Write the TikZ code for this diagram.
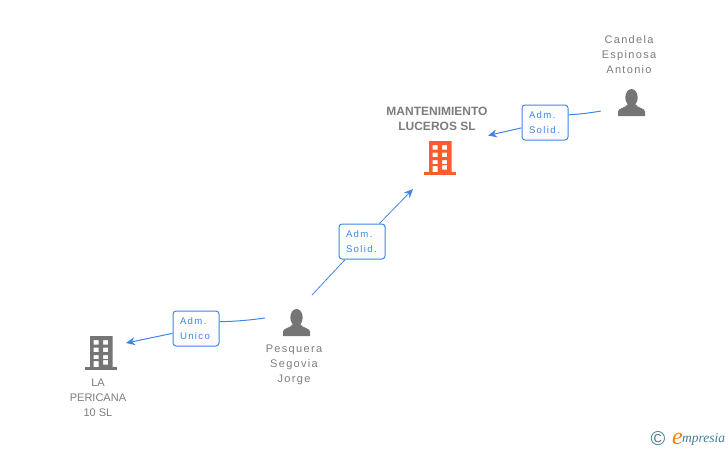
\documentclass[tikz,border=0pt]{standalone}
\usepackage{fontspec}
\setmainfont{Liberation Sans}
\newfontfamily\namefont[LetterSpace=12]{Liberation Sans}
\newfontfamily\rolefont[LetterSpace=14]{Liberation Sans}
\newfontfamily\logofont{Liberation Serif}
\usetikzlibrary{arrows.meta}
\definecolor{mygrey}{HTML}{7C7C7C}
\definecolor{icongrey}{HTML}{757575}
\definecolor{myorange}{HTML}{FF5B2E}
\definecolor{myblue}{HTML}{3F86E8}
\definecolor{myteal}{HTML}{3E7F96}
\tikzset{
  myline/.style={
    draw=myblue,
    line width=1pt,
  },
  myarrow/.style={
    myline,
    -{Stealth[length=9pt,width=8pt]},
  },
  thinarrow/.style={
    draw=myblue,
    line width=0.8pt,
    -{Stealth[length=9pt,width=8pt]},
  },
  myrole/.style={
    draw=myblue,
    line width=1pt,
    shape=rectangle,
    rounded corners=3pt,
    top color=white,
    bottom color=white!98!black,
    align=left,
    text=myblue,
    inner sep=0pt,
    text width=32pt,
    minimum width=46pt,
    minimum height=35pt,
    font=\rolefont\fontsize{9.6}{15}\selectfont,
  },
  myname/.style={
    align=center,
    inner sep=0pt,
    text=mygrey,
    font=\namefont\fontsize{11}{15}\selectfont,
  },
  mycaps/.style={
    myname,
    font=\fontsize{11}{15}\selectfont,
  },
  mytitle/.style={
    align=center,
    inner sep=0pt,
    text=mygrey,
    font=\bfseries\fontsize{12}{15}\selectfont,
  },
  myicon/.style={
    shape=rectangle,
    inner sep=0pt,
    minimum width=27pt,
    minimum height=27pt,
  },
  pics/myperson/.style={
    code={
      \fill [icongrey] (13.5,8.5) ellipse (6.2 and 8.5);
      \fill [icongrey] (0,27) -- (0,22.5) .. controls (0,19) and (8,19) .. (10,15)
        -- (17,15) .. controls (19,19) and (27,19) .. (27,22.5) -- (27,27) -- cycle;
    }
  },
  pics/mybuilding/.style={
    code={
      \fill [#1, even odd rule] (5,0) rectangle (27.5,31)
        (8.5,4) rectangle (13.5,8.5) (18,4) rectangle (23,8.5)
        (8.5,11.5) rectangle (13.5,16) (18,11.5) rectangle (23,16)
        (8.5,19) rectangle (13.5,23) (18,19) rectangle (23,23)
        (18,24) rectangle (23,28.5) (8.5,25) rectangle (13.5,31);
      \fill [#1] (0,31) rectangle (32,34);
    }
  },
}
\begin{document}
\begin{tikzpicture}[x=1pt, y=-1pt]
    \useasboundingbox (0,0) rectangle (728,450);

    \node [myicon] (candela) at (631.5,102.5) {};
    \node [myicon] (pesquera) at (296.5,322.5) {};
    \node [myicon] (luceros) at (440,158) {};
    \node [myicon] (pericana) at (101,353) {};

    \pic at (618,89) {myperson};
    \pic at (283,309) {myperson};
    \pic at (424,141) {mybuilding=myorange};
    \pic at (85,336) {mybuilding=icongrey};

    \node [myname] (candelaname) at (629,55) {Candela\\Espinosa\\Antonio};
    \node [myname] (pesqueraname) at (294,365) {Pesquera\\Segovia\\Jorge};
    \node [mycaps] (pericananame) at (98,397.5) {LA\\PERICANA\\10 SL};
    \node [mytitle] (lucerosname) at (437,119) {MANTENIMIENTO\\LUCEROS SL};

    \node [myrole] (roleA) at (545,122.5) {Adm.\\Solid.};
    \node [myrole] (roleB) at (362,241.5) {Adm.\\Solid.};
    \node [myrole] (roleC) at (196,328.5) {Adm.\\Unico};

    % Free ends of the connectors
    \coordinate (candelaout) at (601,111);
    \coordinate (lucerosin) at (488,135.5);
    \coordinate (pesqueraup) at (312,295);
    \coordinate (lucerosdown) at (413,189);
    \coordinate (pesqueraout) at (265,318);
    \coordinate (pericanain) at (126,343);

    \draw [myline] (candelaout) to[bend left=3] (roleA.18);
    \draw [myarrow] (roleA) -- (lucerosin);
    \draw [thinarrow, -] (pesqueraup) -- (roleB);
    \draw [thinarrow] (roleB) -- (lucerosdown);
    \draw [myline] (pesqueraout) to[bend left=3] (roleC.16);
    \draw [myarrow] (roleC) -- (pericanain);

    % Logo
    \node [inner sep=0pt, text=myteal, font=\fontsize{20}{20}\selectfont] (copyright) at (658,438.5) {©};
    \node [inner sep=0pt, anchor=base west, text=myteal, font=\logofont\itshape\fontsize{13.5}{13.5}\selectfont] (mpresia) at (682,442) {mpresia};
    \node [inner sep=0pt, anchor=base east, text=orange, font=\logofont\itshape\fontsize{24}{24}\selectfont] (elogo) at (683,444) {e};
\end{tikzpicture}
\end{document}
